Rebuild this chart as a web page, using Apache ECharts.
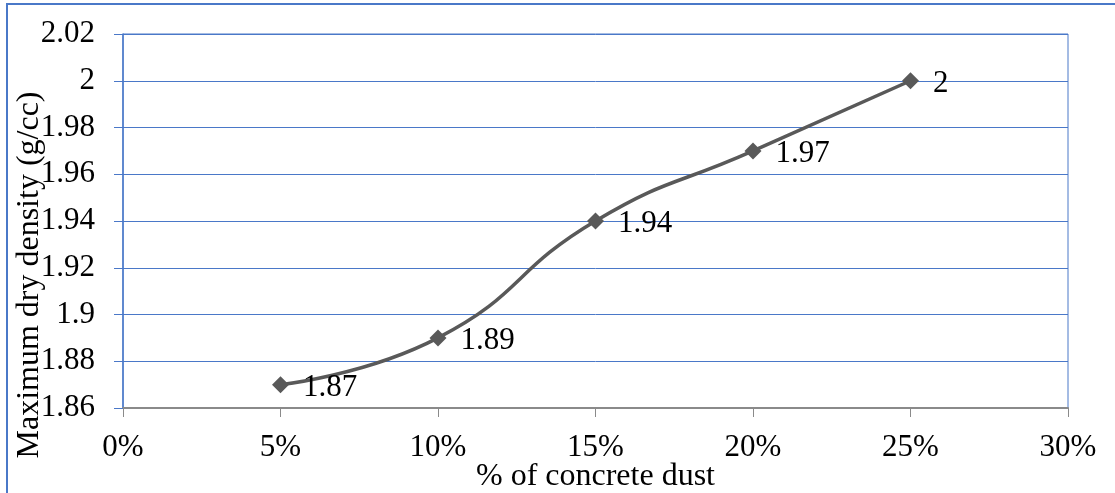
<!DOCTYPE html>
<html>
<head>
<meta charset="utf-8">
<script src="https://cdn.jsdelivr.net/npm/echarts@6/dist/echarts.min.js"></script>
<style>
  html, body { margin: 0; padding: 0; background: #ffffff; }
  #chart { width: 1115px; height: 493px; }
</style>
</head>
<body>
<div id="chart"></div>
<script>
// Concrete dust content (%) and the resulting maximum dry density (g/cc)
const dustPercent = [5, 10, 15, 20, 25];
const maxDryDensity = [1.87, 1.89, 1.94, 1.97, 2.00];
const xTicks = [0, 5, 10, 15, 20, 25, 30];
const yTicks = [1.86, 1.88, 1.90, 1.92, 1.94, 1.96, 1.98, 2.00, 2.02];

const SERIF = '"Liberation Serif", "Times New Roman", serif';
const BLUE = '#4a78c8';
const INK = '#595959';

const chart = echarts.init(document.getElementById('chart'));

chart.setOption({
  animation: false,
  backgroundColor: '#ffffff',
  grid: {
    left: 123, right: 47, top: 34, bottom: 85,
    outerBoundsMode: 'none',
    containLabel: false,
    show: true, borderColor: BLUE, borderWidth: 1
  },
  xAxis: {
    type: 'value',
    min: xTicks[0],
    max: xTicks[xTicks.length - 1],
    interval: xTicks[1] - xTicks[0],
    name: '% of concrete dust',
    nameLocation: 'middle',
    nameGap: 53,
    nameMoveOverlap: false,
    nameTextStyle: { fontFamily: SERIF, fontSize: 32, color: '#000' },
    axisLine: { show: true, lineStyle: { color: '#8a8a8a', width: 2 } },
    axisTick: { show: true, length: 9, lineStyle: { color: '#8a8a8a', width: 1 } },
    axisLabel: {
      margin: 24, fontFamily: SERIF, fontSize: 31, color: '#000',
      formatter: v => v + '%'
    },
    splitLine: { show: false }
  },
  yAxis: {
    type: 'value',
    min: yTicks[0],
    max: yTicks[yTicks.length - 1],
    interval: 0.02,
    axisLine: { show: true, lineStyle: { color: BLUE, width: 1.5 } },
    axisTick: { show: true, length: 9, lineStyle: { color: BLUE, width: 1 } },
    axisLabel: {
      margin: 28, fontFamily: SERIF, fontSize: 31, color: '#000',
      formatter: v => String(parseFloat(v.toFixed(2)))
    },
    splitLine: { show: true, lineStyle: { color: BLUE, width: 1 } }
  },
  graphic: [
    {
      type: 'rect',
      silent: true,
      shape: { x: 7, y: 4, width: 1300, height: 700 },
      style: { fill: 'none', stroke: BLUE, lineWidth: 2 },
      z: 10
    },
    {
      type: 'text',
      x: 30, y: 275,
      rotation: Math.PI / 2,
      style: {
        text: 'Maximum dry density (g/cc)',
        font: '32px ' + SERIF,
        fill: '#000',
        align: 'center',
        verticalAlign: 'middle'
      },
      z: 10
    }
  ],
  series: [{
    type: 'line',
    data: dustPercent.map((x, i) => [x, maxDryDensity[i]]),
    smooth: true,
    symbol: 'diamond',
    symbolSize: 17,
    lineStyle: { color: INK, width: 3.5 },
    itemStyle: { color: INK },
    label: {
      show: true,
      position: 'right',
      distance: 14,
      offset: [0, 3],
      fontFamily: SERIF,
      fontSize: 31,
      color: '#000',
      formatter: p => String(parseFloat(p.value[1].toFixed(2)))
    }
  }]
});
</script>
</body>
</html>
